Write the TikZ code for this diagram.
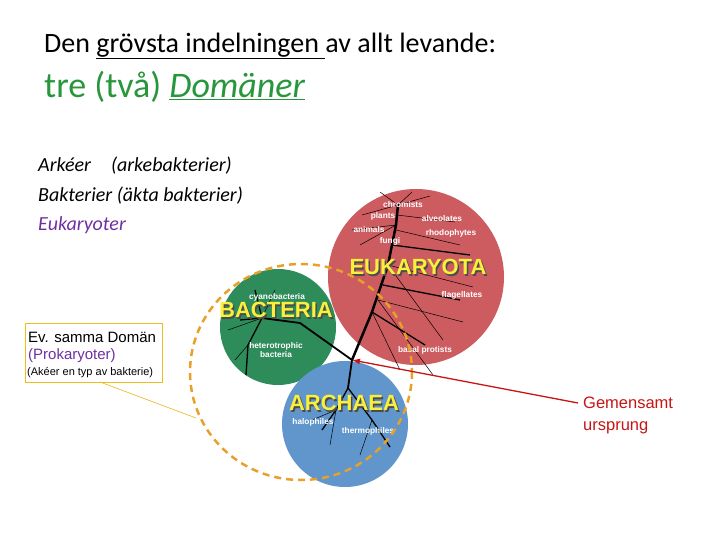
\documentclass[tikz,border=0pt]{standalone}
\usepackage{fontspec}
\setmainfont{Carlito}
\newfontfamily\arialf{Liberation Sans}
\usetikzlibrary{arrows.meta}
\definecolor{redc}{RGB}{204,92,96}
\definecolor{greenc}{RGB}{46,140,90}
\definecolor{bluec}{RGB}{96,150,204}
\definecolor{orangec}{RGB}{232,160,40}
\definecolor{ttlgreen}{RGB}{40,150,60}
\definecolor{purp}{RGB}{112,48,160}
\definecolor{yel}{RGB}{250,240,60}
\definecolor{arrred}{RGB}{200,20,20}
\begin{document}
\begin{tikzpicture}[x=1pt,y=-1pt,
  small/.style={text=white,font=\arialf\bfseries\fontsize{8.3}{9}\selectfont,inner sep=0},
  big/.style={text=yel,font=\arialf\bfseries\fontsize{22}{24}\selectfont,inner sep=0},
  bigsh/.style={big,text=black!70},
  txt/.style={anchor=west,inner sep=0},
  br/.style={line width=1.3pt,black},
  tw/.style={line width=0.5pt,black}]
\useasboundingbox (0,0) rectangle (720,540);
\node[txt,font=\fontsize{28}{30}\selectfont] (t1) at (44,46) {Den \underline{grövsta indelningen }av allt levande:};
\node[txt,font=\fontsize{36}{40}\selectfont,text=ttlgreen] (t2) at (44,87) {tre (två) \underline{\itshape Domäner}};
\node[txt,font=\itshape\fontsize{20}{24}\selectfont] (l1) at (38,166) {Arkéer\quad(arkebakterier)};
\node[txt,font=\itshape\fontsize{20}{24}\selectfont] (l2) at (38,196) {Bakterier (äkta bakterier)};
\node[txt,font=\itshape\fontsize{20}{24}\selectfont,text=purp] (l3) at (38,225) {Eukaryoter};
% circles
\fill[redc] (416,277) circle (88);
\fill[greenc] (278,327) circle (58);
\fill[bluec] (345,424) circle (63);
% tree
\coordinate (root) at (352,360);
\draw[br,line width=2.5pt] (root) -- (372,312) -- (388,265) -- (396,225) -- (398,205);
\draw[br,line width=1.8pt] (root) -- (300,323) -- (262,318);
\draw[br,line width=1.8pt] (root) -- (348,388);
\draw[br] (348,388) -- (336,410) -- (322,430);
\draw[br] (348,388) -- (372,420) -- (390,447);
\draw[tw] (336,410) -- (330,445) (336,410) -- (312,420) (372,420) -- (360,455);
\draw[br] (262,318) -- (240,320) (262,318) -- (248,345) -- (246,375) (262,318) -- (255,290);
\draw[tw] (262,318) -- (228,330) (262,318) -- (275,290) (248,345) -- (235,360);
\foreach \a/\b in {378/300,388/265}{
  \draw[tw] (\a,\b) -- ++(85,22);
  \draw[tw] (\a,\b) -- ++(55,75);}
\draw[br] (372,312) -- (425,345) (383,285) -- (460,300) (392,245) -- (470,255);
\draw[tw] (372,312) -- (400,370) (396,230) -- (460,245);
\draw[tw] (398,205) -- (380,192) (398,205) -- (362,215) (398,205) -- (430,196) (396,225) -- (352,230) (396,225) -- (360,245) (398,205) -- (412,192) (397,215) -- (455,222);
% labels
\node[small] (chrom) at (403,205) {chromists};
\node[small] (plants) at (383,216) {plants};
\node[small] (alv) at (442,219) {alveolates};
\node[small] (anim) at (369,230) {animals};
\node[small] (fungi) at (390,241) {fungi};
\node[small] (rhodo) at (451,233) {rhodophytes};
\node[small] (flag) at (462,295) {flagellates};
\node[small] (basal) at (425,350) {basal protists};
\node[small] (cyano) at (277,297) {cyanobacteria};
\node[small] (hetero) at (276,346) {heterotrophic};
\node[small] (bact2) at (276,355) {bacteria};
\node[small] (halo) at (313,422) {halophiles};
\node[small] (thermo) at (368,431) {thermophiles};
\node[bigsh] (eush) at (419.5,268.5) {EUKARYOTA};
\node[big] (eu) at (418,267) {EUKARYOTA};
\node[bigsh] (bash) at (277.5,311.5) {BACTERIA};
\node[big] (ba) at (276,310) {BACTERIA};
\node[bigsh] (arsh) at (345.5,404.5) {ARCHAEA};
\node[big] (ar) at (344,403) {ARCHAEA};
% orange dashed
\draw[orangec,line width=2.5pt,dash pattern=on 7pt off 5pt] (301,372) ellipse (111 and 108);
% box
\node[draw=orangec!70!yellow,fill=white,anchor=north west,inner sep=0,minimum width=137pt,minimum height=59pt] (box) at (25,323) {};
\node[txt,font=\arialf\fontsize{15}{17}\selectfont] (b1) at (28,337) {Ev. samma Domän};
\node[txt,font=\arialf\fontsize{15}{17}\selectfont,text=purp] (b2) at (28,356) {(Prokaryoter)};
\node[txt,font=\arialf\fontsize{11}{12}\selectfont] (b3) at (27,373) {(Akéer en typ av bakterie)};
\coordinate (lineend) at (196,418);
\draw[orangec!80!yellow,line width=0.6pt] (100,382) -- (lineend);
% red arrow
\node[txt,align=left,text=arrred,font=\arialf\fontsize{16.5}{22}\selectfont] (gem) at (583,415) {Gemensamt\\ursprung};
\draw[arrred,line width=1.3pt,-{Latex[length=8pt,width=6pt]}] (578,403) -- (root);
\end{tikzpicture}
\end{document}
